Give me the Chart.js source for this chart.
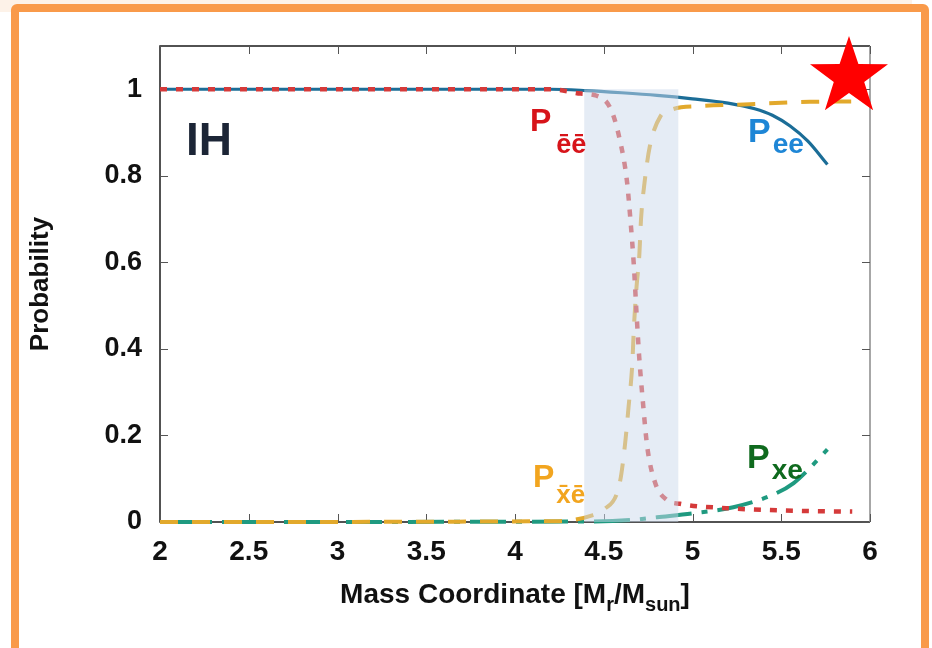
<!DOCTYPE html>
<html lang="en">
<head>
<meta charset="UTF-8" />
<title>Survival probability, IH</title>
<script src="https://cdn.jsdelivr.net/npm/chart.js"></script>
<style>
  html, body { margin: 0; padding: 0; background: #fff; }
  #page { position: relative; width: 932px; height: 648px; overflow: hidden; background: #fff; }
  #haze { position: absolute; left: 0; top: 0; width: 912px; height: 12px; background: #fdf2e8; }
  #frame {
    position: absolute; left: 11px; top: 4px; width: 918px; height: 660px;
    box-sizing: border-box; border: 8px solid #f99a4a; border-radius: 6px; background: #fff;
  }
  #chart { position: absolute; left: 0; top: 0; }
</style>
</head>
<body>
<div id="page">
  <div id="haze"></div>
  <div id="frame"></div>
  <canvas id="chart" width="932" height="648"></canvas>
</div>

<script>
// axis ticks
const xTicks = [2, 2.5, 3, 3.5, 4, 4.5, 5, 5.5, 6];
const yTicks = [0, 0.2, 0.4, 0.6, 0.8, 1];

// shaded resonance region (mass coordinate)
const bandStart = 4.39;
const bandEnd = 4.92;

// P_ee
const massPee = [2, 4.2, 4.4, 4.6, 4.8, 5.0, 5.2, 5.35, 5.45, 5.55, 5.65, 5.76];
const probPee = [1, 1, 0.997, 0.992, 0.986, 0.978, 0.968, 0.955, 0.94, 0.915, 0.88, 0.826];

// P_ebar-ebar
const massPbb = [2, 4.2, 4.37, 4.46, 4.54, 4.59, 4.63, 4.65, 4.67, 4.685, 4.70, 4.72, 4.745, 4.79, 4.855, 4.93, 5.19, 5.57, 5.9];
const probPbb = [1, 1, 0.99, 0.985, 0.954, 0.884, 0.79, 0.70, 0.59, 0.48, 0.38, 0.28, 0.174, 0.09, 0.051, 0.042, 0.032, 0.026, 0.024];

// P_xbar-ebar
const massPxb = [2, 4.25, 4.44, 4.5, 4.59, 4.62, 4.64, 4.66, 4.67, 4.685, 4.70, 4.71, 4.73, 4.76, 4.82, 4.89, 5.04, 5.29, 5.66, 5.9];
const probPxb = [0, 0.002, 0.016, 0.028, 0.09, 0.18, 0.267, 0.36, 0.45, 0.545, 0.614, 0.70, 0.785, 0.869, 0.938, 0.954, 0.961, 0.965, 0.971, 0.972];

// P_xe
const massPxe = [2, 4.4, 4.67, 4.8, 5.0, 5.23, 5.47, 5.57, 5.65, 5.76];
const probPxe = [0, 0.001, 0.005, 0.011, 0.02, 0.034, 0.066, 0.09, 0.12, 0.168];

const FONT = '"Liberation Sans", Arial, sans-serif';

function pts(xs, ys) {
  return xs.map((m, i) => ({ x: m, y: ys[i] }));
}

function curve(label, xs, ys, color, width, dash) {
  return {
    label: label,
    data: pts(xs, ys),
    borderColor: color,
    borderWidth: width,
    borderDash: dash,
    pointRadius: 0,
    fill: false,
    clip: 6,
    tension: 0.4,
    cubicInterpolationMode: 'monotone'
  };
}

// label with subscript: main text then smaller subscript
function subLabel(ctx, x, y, main, sub, color, size, subSize, gap, drop) {
  ctx.fillStyle = color;
  ctx.font = 'bold ' + size + 'px ' + FONT;
  ctx.fillText(main, x, y);
  const w = ctx.measureText(main).width;
  ctx.font = 'bold ' + subSize + 'px ' + FONT;
  ctx.fillText(sub, x + w + gap, y + drop);
}

const decor = {
  id: 'decor',
  beforeDatasetsDraw(chart) {
    const { ctx, chartArea: a, scales: { x, y } } = chart;
    ctx.save();

    // frame box
    ctx.lineWidth = 1.5;
    ctx.strokeStyle = '#1a1a1a';
    ctx.beginPath();
    ctx.moveTo(a.right, a.top);
    ctx.lineTo(a.left, a.top);
    ctx.lineTo(a.left, a.bottom);
    ctx.lineTo(a.right, a.bottom);
    ctx.stroke();
    ctx.strokeStyle = '#8a8a8a';
    ctx.beginPath();
    ctx.moveTo(a.right, a.top);
    ctx.lineTo(a.right, a.bottom);
    ctx.stroke();

    // inward ticks on all four sides
    ctx.lineWidth = 1;
    ctx.strokeStyle = '#555';
    const tl = 8;
    ctx.beginPath();
    xTicks.forEach(v => {
      const px = Math.round(x.getPixelForValue(v)) + 0.5;
      ctx.moveTo(px, a.bottom); ctx.lineTo(px, a.bottom - tl);
      ctx.moveTo(px, a.top); ctx.lineTo(px, a.top + tl);
    });
    yTicks.forEach(v => {
      const py = Math.round(y.getPixelForValue(v)) + 0.5;
      ctx.moveTo(a.left, py); ctx.lineTo(a.left + tl, py);
      ctx.moveTo(a.right, py); ctx.lineTo(a.right - tl, py);
    });
    ctx.stroke();
    ctx.restore();
  },
  afterDatasetsDraw(chart) {
    const { ctx, scales: { x, y } } = chart;
    // shaded band laid over the curves
    const x0 = x.getPixelForValue(bandStart);
    const x1 = x.getPixelForValue(bandEnd);
    const yt = y.getPixelForValue(1);
    const yb = y.getPixelForValue(0);
    ctx.save();
    ctx.fillStyle = 'rgba(203, 218, 236, 0.5)';
    ctx.fillRect(x0, yt, x1 - x0, yb - yt);
    ctx.restore();
  },
  afterDraw(chart) {
    const { ctx, chartArea: a } = chart;
    ctx.save();
    ctx.textAlign = 'left';
    ctx.textBaseline = 'alphabetic';

    // panel tag
    ctx.fillStyle = '#1c2536';
    ctx.font = 'bold 46px ' + FONT;
    ctx.fillText('IH', 186, 155);

    // curve labels
    subLabel(ctx, 530, 131, 'P', '\u0113\u0113', '#d7141a', 32, 27, 5, 22);
    subLabel(ctx, 748, 142, 'P', 'ee', '#1e86d6', 34, 28, 2, 11);
    subLabel(ctx, 747, 468, 'P', 'xe', '#0f6a1e', 34, 28, 2, 11);
    subLabel(ctx, 533, 487, 'P', 'x\u0304\u0113', '#f2a51f', 32, 26, 2, 16);

    // x axis title with subscripts
    ctx.fillStyle = '#111';
    const parts = [
      ['Mass Coordinate [M', 28, 0],
      ['r', 20, 8],
      ['/M', 28, 0],
      ['sun', 20, 8],
      [']', 28, 0]
    ];
    let total = 0;
    parts.forEach(p => { ctx.font = 'bold ' + p[1] + 'px ' + FONT; total += ctx.measureText(p[0]).width; });
    let cx = (a.left + a.right) / 2 - total / 2;
    parts.forEach(p => {
      ctx.font = 'bold ' + p[1] + 'px ' + FONT;
      ctx.fillText(p[0], cx, 603 + p[2]);
      cx += ctx.measureText(p[0]).width;
    });

    // red star marker in the corner
    const sx = 849, sy = 77, R = 41, r = 16;
    ctx.fillStyle = '#ff0000';
    ctx.beginPath();
    for (let i = 0; i < 10; i++) {
      const ang = -Math.PI / 2 + i * Math.PI / 5;
      const rr = i % 2 === 0 ? R : r;
      const px = sx + rr * Math.cos(ang), py = sy + rr * Math.sin(ang);
      if (i === 0) ctx.moveTo(px, py); else ctx.lineTo(px, py);
    }
    ctx.closePath();
    ctx.fill();
    ctx.restore();
  }
};

const chart = new Chart(document.getElementById('chart').getContext('2d'), {
  type: 'line',
  data: {
    datasets: [
      curve('P_ebar-ebar', massPbb, probPbb, '#d53a3a', 4.5, [7, 9]),
      curve('P_xbar-ebar', massPxb, probPxb, '#e2a92c', 4, [18, 14]),
      curve('P_xe', massPxe, probPxe, '#1f9a80', 4, [36, 10, 6, 10]),
      curve('P_ee', massPee, probPee, '#1b6d97', 3.2, [])
    ]
  },
  options: {
    responsive: false,
    animation: false,
    devicePixelRatio: 1,
    layout: { padding: { left: 0, right: 62, top: 46, bottom: 0 } },
    plugins: {
      legend: { display: false },
      tooltip: { enabled: false }
    },
    scales: {
      x: {
        type: 'linear',
        min: 2,
        max: 6,
        afterFit: s => { s.height = 126; },
        afterBuildTicks: s => { s.ticks = xTicks.map(v => ({ value: v })); },
        grid: { display: false, drawTicks: false },
        border: { display: false },
        ticks: {
          padding: 13,
          color: '#111',
          font: { family: FONT, size: 28, weight: 'bold' },
          maxRotation: 0,
          callback: v => String(v)
        }
      },
      y: {
        min: 0,
        max: 1.1,
        afterFit: s => { s.width = 160; },
        afterBuildTicks: s => { s.ticks = yTicks.map(v => ({ value: v })); },
        grid: { display: false, drawTicks: false },
        border: { display: false },
        ticks: {
          padding: 18,
          color: '#111',
          font: { family: FONT, size: 27, weight: 'bold' },
          callback: v => String(v)
        },
        title: {
          display: true,
          text: 'Probability',
          color: '#111',
          font: { family: FONT, size: 26, weight: 'bold' },
          padding: { top: 25, bottom: 0 }
        }
      }
    }
  },
  plugins: [decor]
});
</script>
</body>
</html>
